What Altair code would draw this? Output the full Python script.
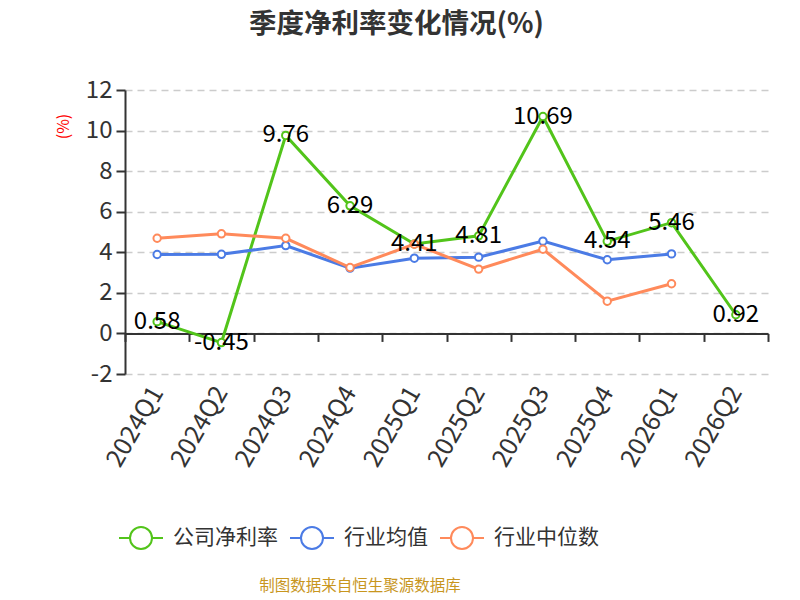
import altair as alt
import pandas as pd

quarters = ["2024Q1", "2024Q2", "2024Q3", "2024Q4", "2025Q1",
            "2025Q2", "2025Q3", "2025Q4", "2026Q1", "2026Q2"]
company = [0.58, -0.45, 9.76, 6.29, 4.41, 4.81, 10.69, 4.54, 5.46, 0.92]
ind_mean = [3.89, 3.90, 4.33, 3.22, 3.71, 3.76, 4.55, 3.63, 3.92, None]
ind_median = [4.69, 4.91, 4.69, 3.25, 4.40, 3.17, 4.15, 1.59, 2.45, None]
series_names = ["公司净利率", "行业均值", "行业中位数"]
series_colors = ["#52c41a", "#4b7be5", "#ff8a5b"]
y_ticks = [-2, 0, 2, 4, 6, 8, 10, 12]
title_text = "季度净利率变化情况(%)"
footer_text = "制图数据来自恒生聚源数据库"

rows = []
for name, vals in zip(series_names, [company, ind_mean, ind_median]):
    for q, v in zip(quarters, vals):
        if v is not None:
            rows.append({"quarter": q, "series": name, "value": v,
                         "label": f"{v:.2f}"})
df = pd.DataFrame(rows)
df_company = df[df["series"] == series_names[0]]
df_footer = pd.DataFrame({"text": [footer_text]})
df_title = pd.DataFrame({"text": [title_text]})

W, H = 643, 284
FONT = "Noto Sans CJK SC"

xscale = alt.Scale(type="band", domain=quarters, paddingInner=0, paddingOuter=0)
yscale = alt.Scale(domain=[-2, 12], nice=False)
cscale = alt.Scale(domain=series_names, range=series_colors)

x_main = alt.X("quarter:N", sort=quarters, scale=xscale, bandPosition=0.5,
               axis=alt.Axis(orient="bottom", title=None, labelAngle=-60,
                             labelFontSize=25, labelColor="#333", labelFont=FONT,
                             labelPadding=14, domain=False, ticks=False, grid=False))
x_plain = alt.X("quarter:N", sort=quarters, scale=xscale, bandPosition=0.5, axis=None)
y_main = alt.Y("value:Q", scale=yscale,
               axis=alt.Axis(values=y_ticks, title="(%)", titleColor="red",
                             titleFontSize=16, titleFontWeight="normal", titleFont=FONT,
                             titleX=-62, titleY=36, titleAngle=-90,
                             titleAlign="center", titleBaseline="middle",
                             labelExpr="datum.value + ''",
                             labelFontSize=24, labelColor="#333", labelFont=FONT,
                             labelPadding=4, domainColor="#333", domainWidth=2,
                             tickColor="#333", tickWidth=2, tickSize=9,
                             grid=True, gridColor="#cccccc", gridDash=[7, 5],
                             gridWidth=1.5))
y_plain = alt.Y("value:Q", scale=yscale)

legend_path = ("M-1,0L-0.5,0M0.5,0L1,0M-0.5,0A0.5,0.5,0,1,1,0.5,0"
               "A0.5,0.5,0,1,1,-0.5,0")

lines = alt.Chart(df).mark_line(strokeWidth=3).encode(
    x=x_main,
    y=y_main,
    stroke=alt.Stroke("series:N", scale=cscale, sort=series_names,
                      legend=alt.Legend(orient="none", legendX=-7, legendY=425,
                                        direction="horizontal", title=None,
                                        symbolType=legend_path, symbolSize=1936,
                                        symbolStrokeWidth=2, symbolFillColor="white",
                                        labelFontSize=21, labelColor="#333",
                                        labelFont=FONT, labelOffset=9,
                                        columnPadding=8, padding=0)),
    detail="series:N",
)

points = alt.Chart(df).mark_point(shape="circle", filled=False, fill="white",
                                  fillOpacity=1, strokeWidth=2, size=55, opacity=1).encode(
    x=x_plain,
    y=y_plain,
    stroke=alt.Stroke("series:N", scale=cscale, legend=None),
)

labels = alt.Chart(df_company).mark_text(fontSize=24, color="black", font=FONT,
                                         align="center", baseline="middle").encode(
    x=x_plain,
    y=y_plain,
    text="label:N",
)

zero_axis = alt.Chart(df_company).mark_point(opacity=0).encode(
    x=alt.X("quarter:N", sort=quarters, scale=xscale, bandPosition=0.5,
            axis=alt.Axis(orient="bottom", offset=-H * 2 / 14, title=None,
                          labels=False, domain=True, ticks=True, tickBand="extent",
                          grid=False, domainColor="#333", domainWidth=2,
                          tickColor="#333", tickWidth=2, tickSize=8)),
    y=alt.value(0),
)

footer = alt.Chart(df_footer).mark_text(fontSize=15.5, color="#c8961e", font=FONT,
                                        align="center", baseline="middle").encode(
    x=alt.value(235), y=alt.value(496), text="text:N",
)

title = alt.Chart(df_title).mark_text(fontSize=27.5, fontWeight="bold", color="#333",
                                      font=FONT, align="center",
                                      baseline="middle").encode(
    x=alt.value(271.5), y=alt.value(-65.5), text="text:N",
)

chart = alt.layer(lines, points, labels, zero_axis, footer, title).resolve_axis(
    x="independent"
).properties(
    width=W, height=H,
    autosize=alt.AutoSizeParams(type="none"),
    padding={"left": 117, "top": 82, "right": 24, "bottom": 222},
).configure(font=FONT).configure_view(strokeWidth=0, stroke="transparent")

chart.save("out.html", embed_options={"renderer": "svg", "actions": False})
